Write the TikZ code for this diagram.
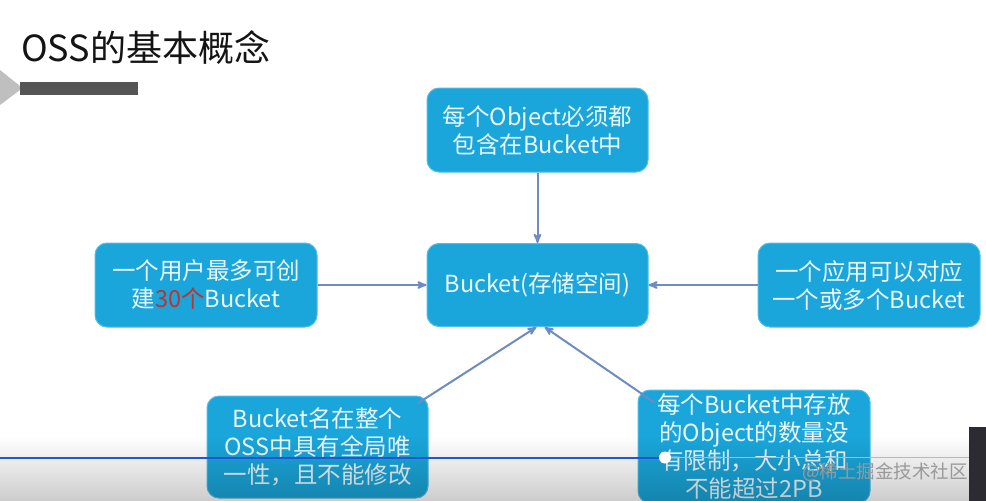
\documentclass[tikz,border=0pt]{standalone}
\usepackage{fontspec}
\setmainfont{Noto Sans CJK SC}
\usepackage{xcolor}
\usepackage{tikz}
\usetikzlibrary{arrows,positioning,calc,fadings}
\definecolor{boxblue}{HTML}{1AA6DA}
\definecolor{boxline}{HTML}{52BDE6}
\definecolor{boxtext}{HTML}{EAF7FD}
\definecolor{arrowc}{HTML}{6E8BC3}
\definecolor{numred}{HTML}{C4302A}
\definecolor{barc}{HTML}{555555}
\definecolor{playblue}{HTML}{1E58D6}
\definecolor{playerdark}{HTML}{2B2B31}
\tikzset{ossbox/.style={draw=boxline,fill=boxblue,rounded corners=12pt,text=boxtext,align=center,inner sep=0pt,minimum width=221pt,minimum height=84pt,line width=1pt,font=\fontsize{23.5}{28}\selectfont}}

\begin{document}
\begin{tikzpicture}[->, >=stealth', x=1pt, y=-1pt]
\tikzstyle{every edge}=[draw=arrowc,line width=2pt]
    \clip (0,0) rectangle (986,501);
    \fill[white] (0,0) rectangle (986,501);

    % title
    \node[anchor=west,inner sep=0pt,text=black!92,font=\fontsize{36}{40}\selectfont] (title) at (21,48) {OSS的基本概念};
    \fill[black!25] (0,70) -- (20,86) -- (20,90) -- (0,105) -- cycle;
    \fill[barc] (20,82) rectangle (138,95);

    \node[ossbox] (T) at (537.5,130) {每个Object必须都\\包含在Bucket中};
    \node[ossbox,minimum height=83pt] (C) at (537.5,285) {Bucket(存储空间)};
    \node[ossbox,minimum width=222pt] (L) at (206,285) {一个用户最多可创\\建\textcolor{numred}{30个}Bucket};
    \node[ossbox,minimum width=222pt] (R) at (869,285) {一个应用可以对应\\一个或多个Bucket};
    \node[ossbox,minimum height=102pt] (BL) at (317.5,447) {Bucket名在整个\\OSS中具有全局唯\\一性，且不能修改};
    \node[ossbox,minimum width=232pt,minimum height=113pt] (BR) at (754,446.5) {每个Bucket中存放\\的Object的数量没\\有限制，大小总和\\不能超过2PB};

    \path (T) edge (C);
    \path (L) edge (C);
    \path (R) edge (C);
    \path ([xshift=-11pt,yshift=-8pt]BL.north east) edge ([xshift=-1pt]C.south);
    \path ([xshift=17pt,yshift=-13pt]BR.north west) edge ([xshift=7pt]C.south);

    % player overlay
    \fill[-,black,path fading=north,fill opacity=0.2] (0,436) rectangle (986,501);
    \coordinate (p0) at (0,457.5);
    \coordinate (p1) at (665,457.5);
    \coordinate (p2) at (986,457.5);
    \draw[-,line width=2pt,playblue] (p0) -- (p1);
    \draw[-,line width=1pt,white!72!black] (p1) -- (p2);
    \fill[white] (p1) circle (6pt);
    \node[anchor=east,inner sep=0pt,text=black!40,font=\fontsize{18.5}{22}\selectfont] (mark) at (968,472) {@稀土掘金技术社区};
    \fill[playerdark] (969,427) rectangle (986,501);
\end{tikzpicture}
\end{document}
